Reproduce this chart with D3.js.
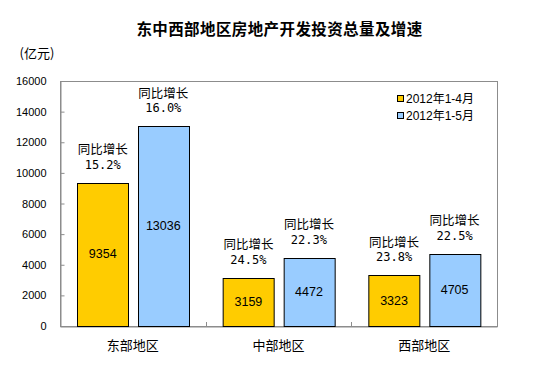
<!DOCTYPE html>
<html>
<head>
    <meta charset="utf-8">
    <title>东中西部地区房地产开发投资总量及增速</title>
    <script src="https://d3js.org/d3.v7.min.js"></script>
    <style>
        body { margin: 0; background: #fff; }
        text { font-family: "Liberation Sans", Arial, "Noto Sans CJK SC", sans-serif; fill: #000; }
        .cjk { font-family: "Noto Sans CJK SC", sans-serif; }
        .mono { font-family: "DejaVu Sans Mono", "Liberation Mono", monospace; }
    </style>
</head>
<body>
    <div id="chart"></div>

    <script>
        var regions = ["东部地区", "中部地区", "西部地区"];
        var seriesNames = ["2012年1-4月", "2012年1-5月"];
        var seriesColors = ["#FFCC00", "#99CCFF"];
        var aprValues = [9354, 3159, 3323];
        var mayValues = [13036, 4472, 4705];
        var aprGrowth = ["15.2%", "24.5%", "23.8%"];
        var mayGrowth = ["16.0%", "22.3%", "22.5%"];
        var yTicks = [0, 2000, 4000, 6000, 8000, 10000, 12000, 14000, 16000];

        var width = 554, height = 367;
        var plot = { left: 60, right: 497, top: 81, bottom: 326 };

        var svg = d3.select("#chart").append("svg")
            .attr("width", width)
            .attr("height", height);

        // title and unit
        svg.append("text")
            .attr("class", "cjk")
            .attr("x", 279.5).attr("y", 28)
            .attr("text-anchor", "middle")
            .attr("dominant-baseline", "central")
            .attr("font-size", 15.5)
            .attr("font-weight", "bold")
            .attr("letter-spacing", 0.4)
            .text("东中西部地区房地产开发投资总量及增速");

        svg.append("text")
            .attr("class", "cjk")
            .attr("x", 37).attr("y", 52)
            .attr("text-anchor", "middle")
            .attr("dominant-baseline", "central")
            .attr("font-size", 13)
            .text("(亿元)");

        var x0 = d3.scaleBand()
            .domain(regions)
            .range([plot.left, plot.right]);

        var x1 = d3.scaleBand()
            .domain([0, 1])
            .range([17, 129])
            .paddingInner(0.15);

        var y = d3.scaleLinear()
            .domain([0, 16000])
            .range([plot.bottom, plot.top]);

        // frame
        svg.append("rect")
            .attr("x", plot.left + 0.5).attr("y", plot.top + 0.5)
            .attr("width", plot.right - plot.left)
            .attr("height", plot.bottom - plot.top)
            .attr("fill", "none")
            .attr("stroke", "#8c8c8c");

        // y axis
        var yAxis = d3.axisLeft(y)
            .tickValues(yTicks)
            .tickSize(-4)
            .tickPadding(14)
            .tickFormat(d3.format("d"));

        var gy = svg.append("g")
            .attr("transform", "translate(" + (plot.left + 0.5) + ",0)")
            .call(yAxis);
        gy.select(".domain").attr("stroke", "#8c8c8c");
        gy.selectAll(".tick line").attr("stroke", "#8c8c8c");
        gy.selectAll(".tick text")
            .attr("font-family", "Liberation Sans, Arial, sans-serif")
            .attr("font-size", 11)
            .attr("fill", "#000");

        // x axis: ticks between categories
        var xAxis = d3.axisBottom(x0).tickSize(0).tickPadding(14);
        var gx = svg.append("g")
            .attr("transform", "translate(0," + (plot.bottom + 0.5) + ")")
            .call(xAxis);
        gx.select(".domain").attr("stroke", "#8c8c8c");
        gx.selectAll(".tick text")
            .attr("class", "cjk")
            .attr("font-family", "Noto Sans CJK SC, sans-serif")
            .attr("font-size", 13)
            .attr("fill", "#000");

        svg.append("g").selectAll("line")
            .data(regions.slice(1))
            .join("line")
            .attr("x1", function(d) { return Math.round(x0(d)) + 0.5; })
            .attr("x2", function(d) { return Math.round(x0(d)) + 0.5; })
            .attr("y1", plot.bottom)
            .attr("y2", plot.bottom - 4)
            .attr("stroke", "#8c8c8c");

        // bars
        var rows = regions.map(function(r, i) {
            return [
                { region: r, s: 0, value: aprValues[i], growth: aprGrowth[i] },
                { region: r, s: 1, value: mayValues[i], growth: mayGrowth[i] }
            ];
        });

        var groups = svg.append("g").selectAll("g")
            .data(rows)
            .join("g")
            .attr("transform", function(d) { return "translate(" + x0(d[0].region) + ",0)"; });

        var bars = groups.selectAll("g")
            .data(function(d) { return d; })
            .join("g");

        bars.append("rect")
            .attr("x", function(d) { return Math.round(x1(d.s)) + 0.5; })
            .attr("y", function(d) { return Math.round(y(d.value)) + 0.5; })
            .attr("width", Math.round(x1.bandwidth()))
            .attr("height", function(d) { return plot.bottom - Math.round(y(d.value)); })
            .attr("fill", function(d) { return seriesColors[d.s]; })
            .attr("stroke", "#000")
            .attr("stroke-width", 1);

        // value inside bar
        bars.append("text")
            .attr("x", function(d) { return x1(d.s) + x1.bandwidth() / 2; })
            .attr("y", function(d) { return y(d.value / 2); })
            .attr("text-anchor", "middle")
            .attr("dominant-baseline", "central")
            .attr("font-size", 12.5)
            .text(function(d) { return d.value; });

        // growth annotation
        bars.append("text")
            .attr("class", "cjk")
            .attr("x", function(d) { return x1(d.s) + x1.bandwidth() / 2; })
            .attr("y", function(d) { return y(d.value) - 34; })
            .attr("text-anchor", "middle")
            .attr("dominant-baseline", "central")
            .attr("font-size", 12.5)
            .text("同比增长");

        bars.append("text")
            .attr("class", "mono")
            .attr("x", function(d) { return x1(d.s) + x1.bandwidth() / 2; })
            .attr("y", function(d) { return y(d.value) - 18; })
            .attr("text-anchor", "middle")
            .attr("dominant-baseline", "central")
            .attr("font-size", 12)
            .text(function(d) { return d.growth; });

        // legend
        var legend = svg.append("g").selectAll("g")
            .data(seriesNames)
            .join("g")
            .attr("transform", function(d, i) { return "translate(397," + (95 + i * 17) + ")"; });

        legend.append("rect")
            .attr("x", 0.5).attr("y", 0.5)
            .attr("width", 6).attr("height", 6)
            .attr("fill", function(d, i) { return seriesColors[i]; })
            .attr("stroke", "#000");

        legend.append("text")
            .attr("x", 9).attr("y", 3.5)
            .attr("dominant-baseline", "central")
            .attr("font-size", 12)
            .text(function(d) { return d; });
    </script>
</body>
</html>
